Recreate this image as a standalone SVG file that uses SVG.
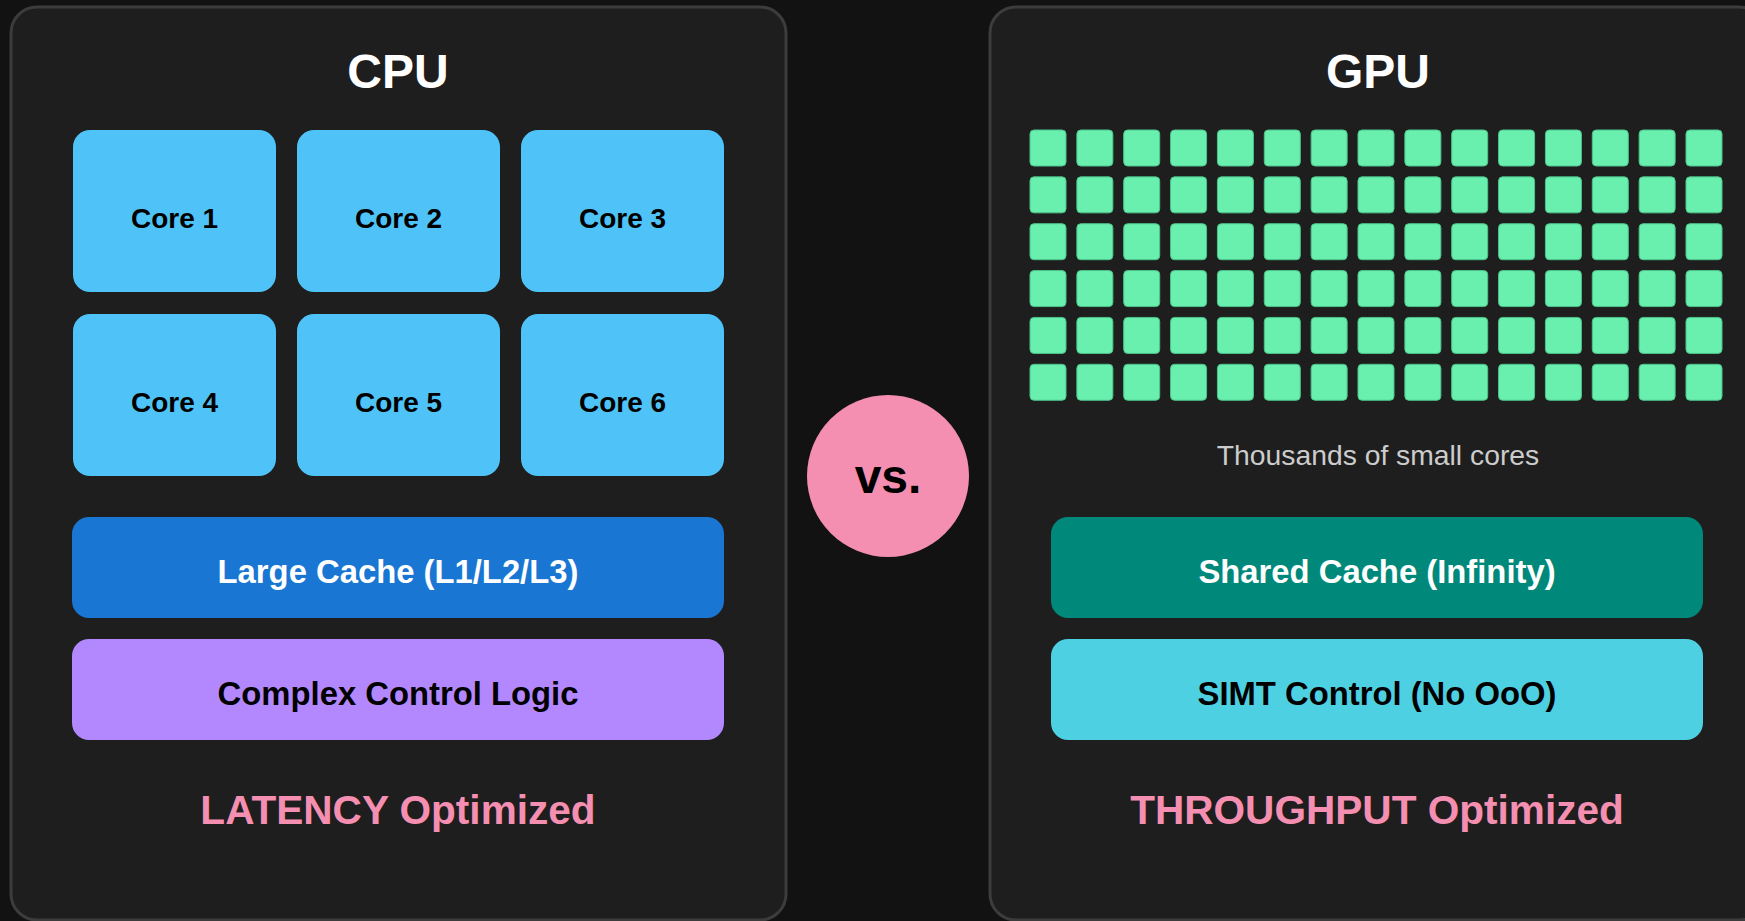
<svg xmlns="http://www.w3.org/2000/svg" width="1745" height="921" viewBox="0 0 1745 921">
  <style>
    .panel { fill: #1e1e1e; stroke: #3c3c3c; stroke-width: 3; }
    .title { font-family: "Liberation Sans", Arial, sans-serif; font-weight: bold; font-size: 48px; fill: #ffffff; text-anchor: middle; }
    .core { fill: #4fc3f7; }
    .lbl { font-family: "Liberation Sans", Arial, sans-serif; font-weight: bold; text-anchor: middle; }
    .core-lbl { font-size: 28px; fill: #000000; }
    .bar-lbl { font-size: 32.8px; }
    .foot { font-family: "Liberation Sans", Arial, sans-serif; font-weight: bold; font-size: 40.6px; fill: #f48fb1; text-anchor: middle; }
    .sm { fill: #69f0ae; stroke: #4cc48a; stroke-width: 1; }
    .note { font-family: "Liberation Sans", Arial, sans-serif; font-size: 28.3px; fill: #cccccc; text-anchor: middle; }
  </style>
  <defs>
    <rect id="sc" width="36" height="36" rx="4" class="sm"/>
    <g id="smrow">
      <use href="#sc" x="0"/><use href="#sc" x="46.86"/><use href="#sc" x="93.71"/><use href="#sc" x="140.57"/>
      <use href="#sc" x="187.43"/><use href="#sc" x="234.29"/><use href="#sc" x="281.14"/><use href="#sc" x="328"/>
      <use href="#sc" x="374.86"/><use href="#sc" x="421.71"/><use href="#sc" x="468.57"/><use href="#sc" x="515.43"/>
      <use href="#sc" x="562.29"/><use href="#sc" x="609.14"/><use href="#sc" x="656"/>
    </g>
  </defs>

  <rect x="0" y="0" width="1745" height="921" fill="#121212"/>

  <!-- CPU side -->
  <g id="cpu">
    <rect class="panel" x="11" y="7" width="775" height="913" rx="26"/>
    <text class="title" x="398" y="88">CPU</text>
  </g>
  <g id="core1"><rect class="core" x="73" y="130" width="203" height="162" rx="17"/><text class="lbl core-lbl" x="174.5" y="228">Core 1</text></g>
  <g id="core2"><rect class="core" x="297" y="130" width="203" height="162" rx="17"/><text class="lbl core-lbl" x="398.5" y="228">Core 2</text></g>
  <g id="core3"><rect class="core" x="521" y="130" width="203" height="162" rx="17"/><text class="lbl core-lbl" x="622.5" y="228">Core 3</text></g>
  <g id="core4"><rect class="core" x="73" y="314" width="203" height="162" rx="17"/><text class="lbl core-lbl" x="174.5" y="412">Core 4</text></g>
  <g id="core5"><rect class="core" x="297" y="314" width="203" height="162" rx="17"/><text class="lbl core-lbl" x="398.5" y="412">Core 5</text></g>
  <g id="core6"><rect class="core" x="521" y="314" width="203" height="162" rx="17"/><text class="lbl core-lbl" x="622.5" y="412">Core 6</text></g>
  <g id="cpu-cache">
    <rect x="72" y="517" width="652" height="101" rx="17" fill="#1976d2"/>
    <text class="lbl bar-lbl" x="398" y="583" fill="#ffffff">Large Cache (L1/L2/L3)</text>
  </g>
  <g id="cpu-control">
    <rect x="72" y="639" width="652" height="101" rx="17" fill="#b388ff"/>
    <text class="lbl bar-lbl" x="398" y="705" fill="#000000">Complex Control Logic</text>
  </g>
  <g id="cpu-note">
    <text class="foot" x="398" y="824">LATENCY Optimized</text>
  </g>

  <!-- versus badge -->
  <g id="vs">
    <circle cx="888" cy="476" r="81" fill="#f48fb1"/>
    <text class="lbl" x="888" y="493" font-size="48" fill="#000000">vs.</text>
  </g>

  <!-- GPU side -->
  <g id="gpu">
    <rect class="panel" x="990" y="7" width="775" height="913" rx="26"/>
    <text class="title" x="1378" y="88">GPU</text>
  </g>
  <g id="gpu-cores">
    <use href="#smrow" x="1030" y="130"/>
    <use href="#smrow" x="1030" y="176.86"/>
    <use href="#smrow" x="1030" y="223.71"/>
    <use href="#smrow" x="1030" y="270.57"/>
    <use href="#smrow" x="1030" y="317.43"/>
    <use href="#smrow" x="1030" y="364.29"/>
    <text class="note" x="1378" y="465">Thousands of small cores</text>
  </g>
  <g id="gpu-cache">
    <rect x="1051" y="517" width="652" height="101" rx="17" fill="#00897b"/>
    <text class="lbl bar-lbl" x="1377" y="583" fill="#ffffff">Shared Cache (Infinity)</text>
  </g>
  <g id="gpu-control">
    <rect x="1051" y="639" width="652" height="101" rx="17" fill="#4dd0e1"/>
    <text class="lbl bar-lbl" x="1377" y="705" fill="#000000">SIMT Control (No OoO)</text>
  </g>
  <g id="gpu-note">
    <text class="foot" x="1377" y="824">THROUGHPUT Optimized</text>
  </g>

  <!-- no connectors in this figure -->
  <g id="connectors"/>
</svg>
